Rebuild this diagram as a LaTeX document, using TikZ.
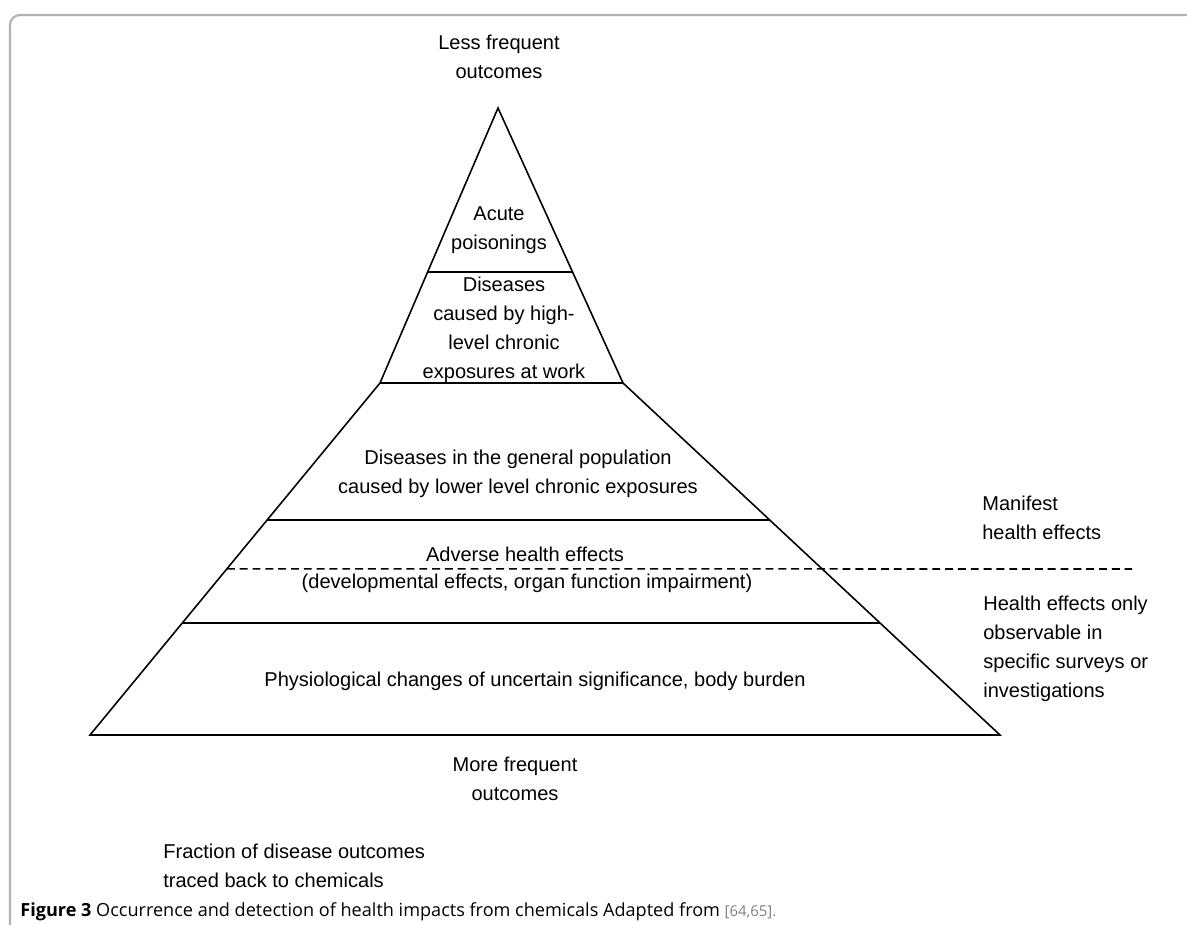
\documentclass[tikz,border=0pt]{standalone}
\usepackage{fontspec}
\setmainfont{Liberation Sans}
\newfontfamily\capfont{Open Sans}
\usetikzlibrary{calc}
\tikzset{
	band/.style={line width=0.9pt,line join=miter},
	cut/.style={line width=0.9pt,dash pattern=on 4.5pt off 2.8pt},
	lbl/.style={align=center,inner sep=0pt,font=\fontsize{11.4}{16.4}\selectfont},
	side/.style={lbl,align=left,anchor=west}
}
\begin{document}
\begin{tikzpicture}[x=0.02cm,y=-0.02cm]
	\useasboundingbox (0,0) rectangle (1187,933);
	% page frame of the scan
	\draw[gray!60,line width=1.2pt] (1187,15) -- (20,15) to[out=180,in=90] (10,25) -- (10,925);
	% pyramid corners
	\coordinate (apex) at (498,108);
	\coordinate (ul) at (380,383);
	\coordinate (ur) at (623,383);
	\coordinate (bl) at (90,735);
	\coordinate (br) at (1000,735);
	\coordinate (dashend) at (1132,569);
	\draw[band] (apex) -- (ul) -- (ur) -- cycle;
	\draw[band] (ul) -- (bl) -- (br) -- (ur);
	\draw[band] ($(apex)!0.596!(ul)$) -- ($(apex)!0.596!(ur)$);
	\draw[band] ($(ul)!0.389!(bl)$) -- ($(ur)!0.389!(br)$);
	\draw[band] ($(ul)!0.682!(bl)$) -- ($(ur)!0.682!(br)$);
	\draw[cut] ($(ul)!0.528!(bl)$) -- (dashend);
	% labels
	\node[lbl] (less) at (499,57) {Less frequent\\outcomes};
	\node[lbl] (acute) at (499,230) {Acute\\poisonings};
	\node[lbl] (work) at (504,330) {Diseases\\caused by high-\\level chronic\\exposures at work};
	\node[lbl] (general) at (518,474) {Diseases in the general population\\caused by lower level chronic exposures};
	\node[lbl] (adverse) at (525,554) {Adverse health effects};
	\node[lbl] (develop) at (527,583) {(developmental effects, organ function impairment)};
	\node[lbl] (physio) at (535,681) {Physiological changes of uncertain significance, body burden};
	\node[lbl] (more) at (515,779) {More frequent\\outcomes};
	\node[side] (manifest) at (982,518) {Manifest\\health effects};
	\node[side] (surveys) at (983,649) {Health effects only\\observable in\\specific surveys or\\investigations};
	\node[side] (fraction) at (163,866) {Fraction of disease outcomes\\traced back to chemicals};
	\node[anchor=west,inner sep=0pt,font=\capfont\fontsize{10.3}{12}\selectfont] (caption) at (20,912)
		{\textbf{Figure 3} Occurrence and detection of health impacts from chemicals Adapted from {\fontsize{8.5}{9}\selectfont\color{gray}[64,65].}};
\end{tikzpicture}
\end{document}
